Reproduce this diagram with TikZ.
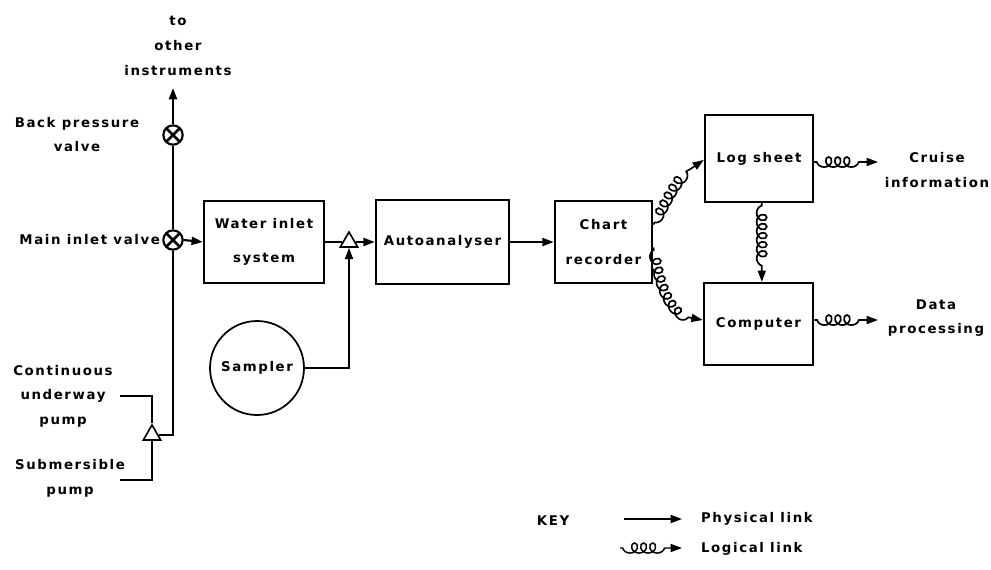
\documentclass[tikz,border=0pt]{standalone}
\usepackage{fontspec}
\setmainfont{DejaVu Sans}[LetterSpace=12]
\usetikzlibrary{decorations.pathmorphing,shapes.geometric,arrows.meta}
\begin{document}
\begin{tikzpicture}[x=0.75pt,y=-0.75pt,
  line width=1.6pt,
  every node/.style={font=\fontsize{10}{18.5}\bfseries\selectfont, align=center, inner sep=0pt},
  box/.style={draw, rectangle, line width=1.7pt},
  valve/.style={draw, circle, minimum size=14.5pt, line width=1.6pt,
    path picture={\draw[line width=1.9pt]
      ([shift={(-5pt,-5pt)}]path picture bounding box.center) -- ([shift={(5pt,5pt)}]path picture bounding box.center)
      ([shift={(-5pt,5pt)}]path picture bounding box.center) -- ([shift={(5pt,-5pt)}]path picture bounding box.center);}},
  junc/.style={draw, regular polygon, regular polygon sides=3, minimum size=15pt, line width=1.2pt, fill=white},
  tip/.style={-{Triangle[length=8.5pt,width=6pt]}},
  logi/.style={line width=1.25pt, decorate, decoration={coil, mirror, aspect=1, segment length=6.8pt, amplitude=3.8pt, pre length=2pt, post length=11pt}, -{Triangle[length=8.5pt,width=6pt]}}
]
\useasboundingbox[fill=white] (0,0) rectangle (991,569);

% boxes
\node[box, minimum width=90pt, minimum height=62pt] (water) at (264,242) {Water inlet\\[7.5pt]system};
\node[box, minimum width=100pt, minimum height=63pt] (auto) at (442.5,242) {Autoanalyser};
\node[box, minimum width=73pt, minimum height=61.5pt] (chart) at (603.5,242) {Chart\\[7.5pt]recorder};
\node[box, minimum width=81pt, minimum height=65pt] (log) at (759,158.5) {Log sheet};
\node[box, minimum width=82pt, minimum height=61.5pt] (comp) at (758.5,324) {Computer};
\node[draw, circle, minimum size=70.5pt, line width=1.3pt] (sampler) at (257,368) {Sampler};

% valves and junctions
\node[valve] (mainvalve) at (173,240) {};
\node[valve] (bpvalve) at (173,135) {};
\node[junc] (tri1) at (152,435) {};
\node[junc] (tri2) at (349,242) {};
\coordinate (top) at (173,88);
\coordinate (cstart) at (120,396);
\coordinate (sstart) at (120,480);

% labels
\node (toother) at (178,46) {to\\other\\instruments};
\node (bplabel) at (77,134.5) {Back pressure\\valve};
\node[anchor=east] (mvlabel) at ([xshift=-1pt]mainvalve.west) {Main inlet valve};
\node (cuplabel) at (63,396) {Continuous\\underway\\pump};
\node (subl) at (70,478) {Submersible\\pump};
\node (cruise) at (937,170) {Cruise\\information};
\node (datap) at (936,318) {Data\\processing};

% physical links
\draw (tri1.east) -| (mainvalve.south);
\draw (mainvalve) -- (bpvalve);
\draw[tip] (bpvalve) -- (top);
\draw[tip] (mainvalve.east) -- (water.west);
\draw (cstart) -| (tri1.north);
\draw (sstart) -| (tri1.south);
\draw (water.east) -- (tri2.west);
\draw[tip] (tri2.east) -- (auto.west);
\draw[tip] (sampler.east) -| (tri2.south);
\draw[tip] (auto.east) -- (chart.west);

% logical links
\draw[logi] ([yshift=13pt]chart.east) to[out=60,in=210] ([yshift=-1pt]log.west);
\draw[logi] ([yshift=-4pt]chart.east) to[out=-80,in=180] ([yshift=3pt]comp.west);
\draw[logi] ([xshift=2pt]log.south) -- ([xshift=2.5pt]comp.north);
\coordinate (cruiseend) at (878,162);
\coordinate (dataend) at (878,320);
\draw[logi] (log.east |- cruiseend) -- (cruiseend);
\draw[logi] (comp.east |- dataend) -- (dataend);

% key
\node (key) at (553,521) {KEY};
\coordinate (pa) at (624,519);
\coordinate (pb) at (682,519);
\coordinate (la) at (620,548);
\coordinate (lb) at (682,548);
\draw[tip, line width=1.2pt] (pa) -- (pb);
\draw[logi, line width=1.1pt] (la) -- (lb);
\node[anchor=west] (phys) at (700,519) {Physical link};
\node[anchor=west] (logl) at (700,549) {Logical link};
\end{tikzpicture}
\end{document}
